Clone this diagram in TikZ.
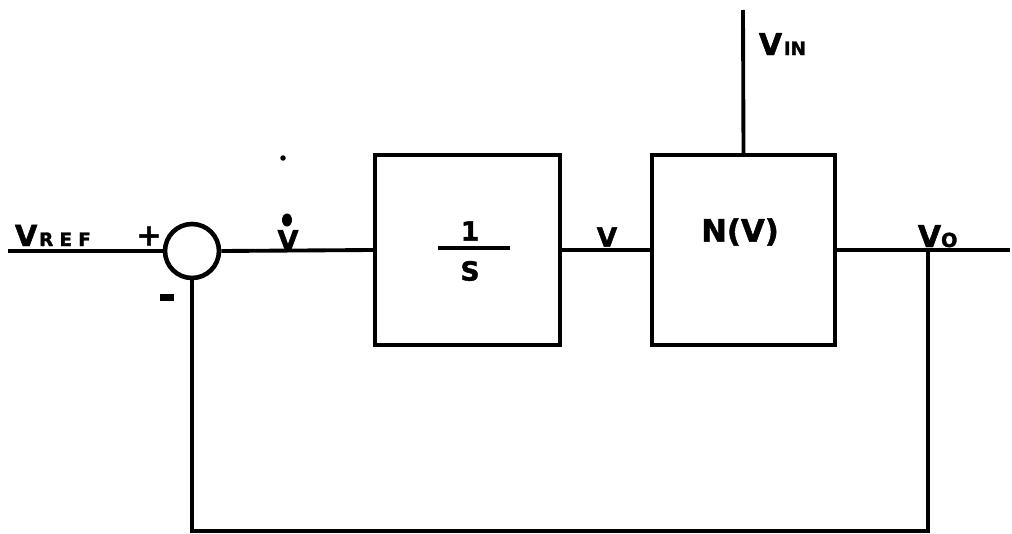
\documentclass[tikz,border=0pt]{standalone}
\usepackage{fontspec}
\setmainfont{DejaVu Sans}[BoldFeatures={FakeBold=1.6}]
\begin{document}
\begin{tikzpicture}[x=0.02cm,y=-0.02cm, line width=2.2pt,
  blk/.style={draw, line width=2.4pt, minimum width=3.7cm, minimum height=3.8cm, inner sep=0pt},
  sumj/.style={draw, circle, line width=2.6pt, minimum size=1.08cm, inner sep=0pt},
  lbl/.style={inner sep=0pt, font=\bfseries}]
\useasboundingbox (0,0) rectangle (1012,534);

% blocks
\node[sumj] (sum) at (192,251) {};
\node[blk] (b1) at (467.5,250) {};
\node[blk, minimum width=3.66cm] (b2) at (743.5,250) {};

% free ends
\coordinate (in) at (8,251);
\coordinate (out) at (1010,250);
\coordinate (vin) at (743,10);
\coordinate (tap) at (928,250);
\coordinate (fb) at (928,531);

% connectors
\draw (in) -- (sum.west);
\draw (sum.east) -- (b1.west);
\draw (b1.east) -- (b2.west);
\draw (b2.east) -- (out);
\draw (vin) -- (b2.north);
\draw (tap) -- (fb) -| (sum.south);

% labels
\node[lbl, anchor=base west] (vref) at (13,246)
  {{\fontsize{16.5}{16.5}\selectfont V}{\fontsize{10.5}{10.5}\selectfont\hspace{1pt}R\hspace{3.5pt}E\hspace{3.5pt}F}};
\node[lbl, font=\bfseries\fontsize{17}{17}\selectfont] (plus) at (149,236) {+};
\node[lbl, font=\bfseries\fontsize{24}{24}\selectfont] (minus) at (167,302) {-};
\node[lbl, font=\bfseries\fontsize{15.5}{15.5}\selectfont] (vdot) at (288,240) {V};
\fill (287,220) ellipse (0.1cm and 0.13cm);
\node[lbl, font=\bfseries\fontsize{15}{15}\selectfont] (one) at (470,231) {1};
\draw[line width=2.6pt] (438,248) -- (510,248);
\node[lbl, font=\bfseries\fontsize{15}{15}\selectfont] (s) at (470,271) {S};
\node[lbl, font=\bfseries\fontsize{15}{15}\selectfont] (v) at (607,237) {V};
\node[lbl, font=\bfseries\fontsize{17.5}{17.5}\selectfont] (nv) at (740,232) {N(V)};
\node[lbl, anchor=base west] (vinl) at (757,55)
  {{\fontsize{17}{17}\selectfont V}{\fontsize{10.5}{10.5}\selectfont\hspace{1pt}IN}};
\node[lbl, anchor=base west] (vo) at (916,247)
  {{\fontsize{17}{17}\selectfont V}{\fontsize{11}{11}\selectfont O}};

% speck
\fill (283,158) circle (0.055cm);
\end{tikzpicture}
\end{document}
